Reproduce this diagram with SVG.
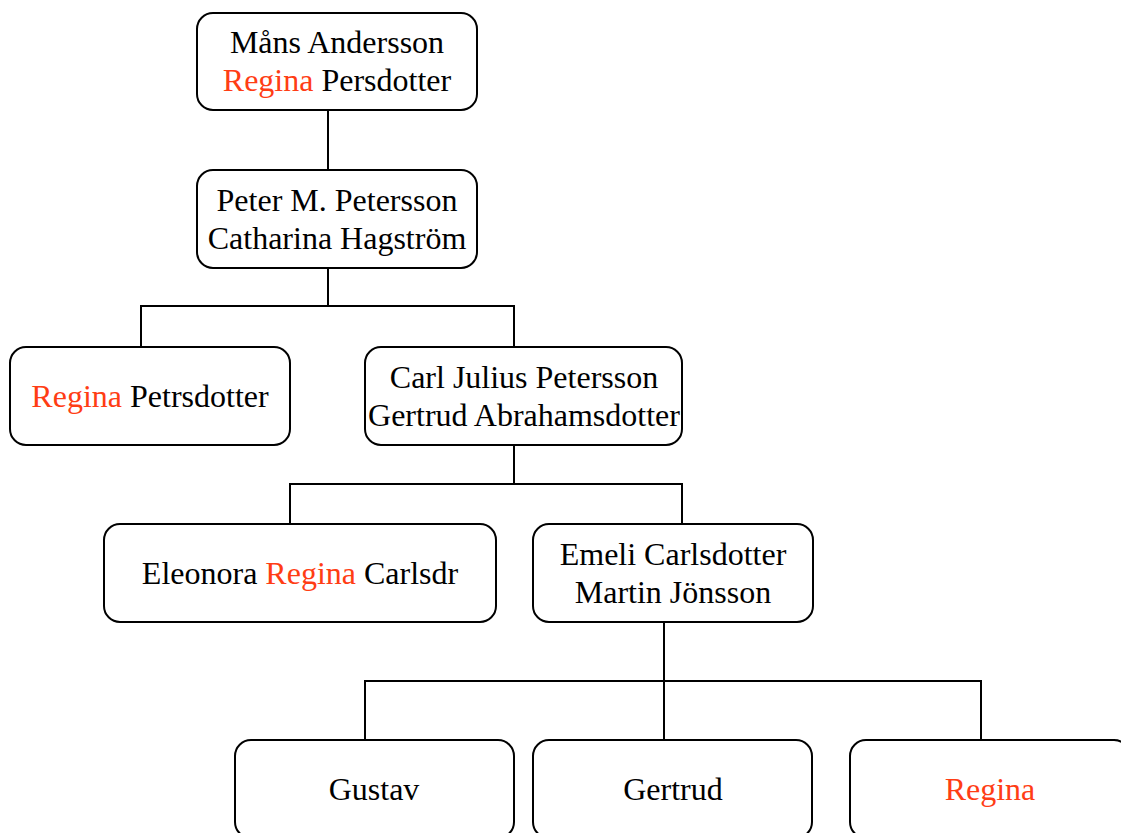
<svg xmlns="http://www.w3.org/2000/svg" width="1121" height="833" viewBox="0 0 1121 833">
<style>
.box{fill:#fff;stroke:#000;stroke-width:2}
.t{font-family:"Liberation Serif","Times New Roman",serif;font-size:32px;fill:#000;text-anchor:middle}
.r{fill:#ff3d14}
.c{fill:none;stroke:#000;stroke-width:2}
</style>
<rect width="1121" height="833" fill="#fff"/>
<g id="connectors">
<path class="c" d="M328,110V170"/>
<path class="c" d="M328,268V306M141,347V306H514V347"/>
<path class="c" d="M514,445V484M290,524V484H682V524"/>
<path class="c" d="M664,622V681M365,740V681H981V740M664,681V740"/>
</g>
<g id="n1"><rect class="box" x="197" y="13" width="280" height="97" rx="16"/>
<text class="t" x="337" y="53">Måns Andersson</text>
<text class="t" x="337" y="91"><tspan class="r">Regina</tspan> Persdotter</text></g>
<g id="n2"><rect class="box" x="197" y="170" width="280" height="98" rx="16"/>
<text class="t" x="337" y="211">Peter M. Petersson</text>
<text class="t" x="337" y="249">Catharina Hagström</text></g>
<g id="n3"><rect class="box" x="10" y="347" width="280" height="98" rx="16"/>
<text class="t" x="150" y="407"><tspan class="r">Regina</tspan> Petrsdotter</text></g>
<g id="n4"><rect class="box" x="365" y="347" width="317" height="98" rx="16"/>
<text class="t" x="524" y="388">Carl Julius Petersson</text>
<text class="t" x="524" y="426">Gertrud Abrahamsdotter</text></g>
<g id="n5"><rect class="box" x="104" y="524" width="392" height="98" rx="16"/>
<text class="t" x="300" y="584">Eleonora <tspan class="r">Regina</tspan> Carlsdr</text></g>
<g id="n6"><rect class="box" x="533" y="524" width="280" height="98" rx="16"/>
<text class="t" x="673" y="565">Emeli Carlsdotter</text>
<text class="t" x="673" y="603">Martin Jönsson</text></g>
<g id="n7"><rect class="box" x="235" y="740" width="279" height="98" rx="16"/>
<text class="t" x="374" y="800">Gustav</text></g>
<g id="n8"><rect class="box" x="533" y="740" width="279" height="98" rx="16"/>
<text class="t" x="673" y="800">Gertrud</text></g>
<g id="n9"><rect class="box" x="850" y="740" width="280" height="98" rx="16"/>
<text class="t r" x="990" y="800">Regina</text></g>
</svg>
